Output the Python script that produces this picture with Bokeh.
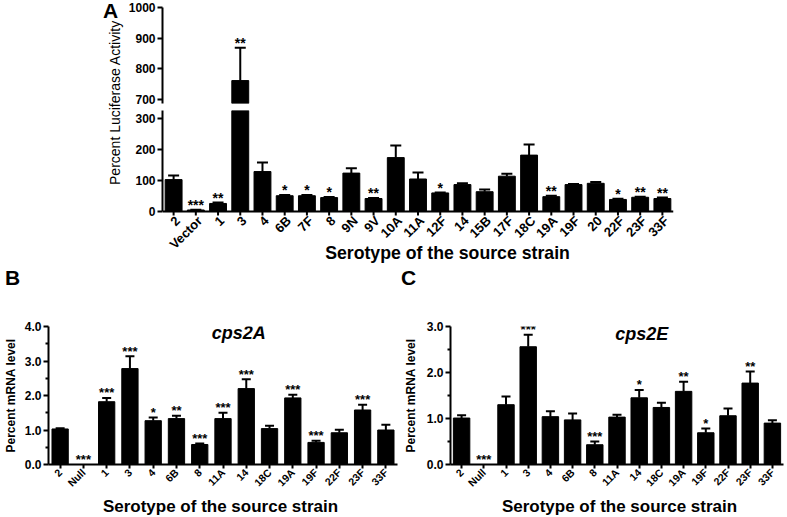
import math
from bokeh.plotting import figure
from bokeh.layouts import row, column
from bokeh.models import (FactorRange, Range1d, FixedTicker, Whisker, TeeHead,
                          Label, ColumnDataSource, PrintfTickFormatter, Span)
from bokeh.core.properties import value
from bokeh.embed import file_html
from bokeh.resources import INLINE

FONT = "Liberation Sans"

# ---------------- data ----------------
a_cats = ["2", "Vector", "1", "3", "4", "6B", "7F", "8", "9N", "9V", "10A", "11A",
          "12F", "14", "15B", "17F", "18C", "19A", "19F", "20", "22F", "23F", "33F"]
a_vals = [103, 5, 26, 762, 129, 51, 51, 45, 124, 42, 174, 105,
          60, 87, 64, 114, 182, 48, 87, 91, 39, 46, 42]
a_err = [116, 6, 29, 869, 158, 53, 53, 47, 140, 44, 213, 126,
         61, 91, 71, 122, 216, 51, 89, 95, 41, 48, 45]
a_stars = ["", "***", "**", "**", "", "*", "*", "*", "", "**", "", "",
           "*", "", "", "", "", "**", "", "", "*", "**", "**"]
a_low_ticks = [0, 100, 200, 300]
a_up_ticks = [700, 800, 900, 1000]

bc_cats = ["2", "Null", "1", "3", "4", "6B", "8", "11A", "14", "18C", "19A",
           "19F", "22F", "23F", "33F"]
b_vals = [1.03, 0, 1.82, 2.78, 1.27, 1.33, 0.58, 1.33, 2.20, 1.04, 1.93,
          0.64, 0.92, 1.58, 1.00]
b_err = [1.05, 0, 1.93, 3.14, 1.36, 1.41, 0.61, 1.50, 2.47, 1.12, 2.02,
         0.69, 1.01, 1.73, 1.15]
b_stars = ["", "***", "***", "***", "*", "**", "***", "***", "***", "", "***",
           "***", "", "***", ""]
b_ticks = [0, 1, 2, 3, 4]
b_minor = [0.5, 1.5, 2.5, 3.5]

c_vals = [1.01, 0, 1.30, 2.56, 1.04, 0.97, 0.43, 1.03, 1.45, 1.24, 1.59,
          0.69, 1.06, 1.77, 0.90]
c_err = [1.07, 0, 1.48, 2.82, 1.16, 1.11, 0.50, 1.08, 1.62, 1.34, 1.80,
         0.78, 1.22, 2.02, 0.96]
c_stars = ["", "***", "", "***", "", "", "***", "", "*", "", "**",
           "*", "", "**", ""]
c_ticks = [0, 1, 2, 3]
c_minor = [0.5, 1.5, 2.5]

x_title = "Serotype of the source strain"
a_ylabel = "Percent Luciferase Activity"
bc_ylabel = "Percent mRNA level"


# ---------------- helpers ----------------
def base_fig(width, height, x_range, y_range, left, right, top, bottom, **kw):
    p = figure(width=width, height=height, x_range=x_range, y_range=y_range,
               output_backend="svg", toolbar_location=None,
               min_border_left=left, min_border_right=right,
               min_border_top=top, min_border_bottom=bottom, **kw)
    p.outline_line_color = None
    p.grid.visible = False
    p.background_fill_color = "white"
    p.border_fill_color = "white"
    return p


def strip(width, height):
    return base_fig(width, height, Range1d(0, width), Range1d(0, height),
                    0, 0, 0, 0, x_axis_location=None, y_axis_location=None)


def style_axis(ax, size, tick_out=5):
    ax.axis_line_width = 2
    ax.axis_line_color = "black"
    ax.major_tick_line_width = 2
    ax.major_tick_line_color = "black"
    ax.major_tick_in = 0
    ax.major_tick_out = tick_out
    ax.minor_tick_line_width = 2
    ax.minor_tick_line_color = "black"
    ax.minor_tick_in = 0
    ax.minor_tick_out = 3
    ax.major_label_text_font = FONT
    ax.major_label_text_font_style = "bold"
    ax.major_label_text_font_size = size
    ax.major_label_text_color = "black"
    ax.major_label_standoff = 2


def add_label(p, x, y, text, size, style="bold", angle=0.0):
    p.add_layout(Label(x=x, y=y, text=text, text_font=FONT,
                       text_font_size=size, text_font_style=style,
                       text_color="black", text_align="center",
                       text_baseline="middle", angle=angle))


def draw_bars(p, cats, vals, errs, stars, width, head, star_size, lo, hi):
    bx = [c for c, v in zip(cats, vals) if v >= lo]
    bv = [v for v in vals if v >= lo]
    p.vbar(x=bx, top=bv, width=width, fill_color="black", line_color="black")
    wx, wl, wu = [], [], []
    sx, sy, st = [], [], []
    for c, v, e, s in zip(cats, vals, errs, stars):
        if e > v and lo <= v and e <= hi:
            wx.append(c); wl.append(v); wu.append(e)
        if s:
            yy = max(v, e)
            if lo <= yy <= hi:
                sx.append(c); sy.append(yy); st.append(s)
    if wx:
        src = ColumnDataSource(dict(x=wx, lower=wl, upper=wu))
        p.add_layout(Whisker(base="x", lower="lower", upper="upper", source=src,
                             dimension="height", line_width=2, line_color="black",
                             upper_head=TeeHead(size=head, line_width=2,
                                                line_color="black"),
                             lower_head=None))
    if sx:
        p.text(x=sx, y=sy, text=st, text_font_size=star_size,
               text_font_style="bold", text_align="center",
               text_baseline="alphabetic", text_color="black",
               y_offset=-5, text_font=value(FONT))


# ---------------- panel A ----------------
A_W = 662
A_LEFT = 37
A_FW = 511
A_RIGHT = A_W - A_LEFT - A_FW

a_x = FactorRange(factors=a_cats)

# upper segment of the broken axis (frame 96 px tall)
up = base_fig(A_W, 106, a_x, Range1d(687, 1001), A_LEFT, A_RIGHT, 7, 3,
              x_axis_location=None)
draw_bars(up, a_cats, a_vals, a_err, a_stars, 0.76, 11, "14px", 687, 1001)
style_axis(up.yaxis[0], "12px")
up.yaxis[0].ticker = FixedTicker(ticks=a_up_ticks)

# lower segment (frame 156 px tall: 0..326 above the axis, room below for labels)
LOW_H = 156
LOW_Y0, LOW_Y1 = -177.4, 326
per_px = (LOW_Y1 - LOW_Y0) / LOW_H
low = base_fig(A_W, 160, a_x, Range1d(LOW_Y0, LOW_Y1), A_LEFT, A_RIGHT, 4, 0,
               x_axis_location=None)
draw_bars(low, a_cats, a_vals, a_err, a_stars, 0.76, 11, "14px", 0, LOW_Y1)
style_axis(low.yaxis[0], "12px")
low.yaxis[0].ticker = FixedTicker(ticks=a_low_ticks)
low.yaxis[0].bounds = (0, LOW_Y1)
# category axis drawn at value 0
low.add_layout(Span(location=0, dimension="width", line_color="black",
                    line_width=2))
n_a = len(a_cats)
low.segment(x0=a_cats, y0=[0] * n_a, x1=a_cats, y1=[-4 * per_px] * n_a,
            line_color="black", line_width=2)
low.text(x=a_cats, y=[0] * n_a, text=a_cats, angle=math.pi / 4,
         text_align="right", text_baseline="middle", x_offset=4, y_offset=7,
         text_font=value(FONT), text_font_size="13px", text_font_style="bold",
         text_color="black")
# x title (frame starts at x=162 px; value 0 at y=211 px)
title_x_px = 447 - 162
title_y_px = 252 - 211
add_label(low, title_x_px * n_a / A_FW, -title_y_px * per_px, x_title, "17.7px")

labA = strip(125, 266)
add_label(labA, 110, 266 - 10, "A", "21px")
add_label(labA, 114.5, 266 - 102, a_ylabel, "14px", style="normal",
          angle=math.pi / 2)

top_part = row(labA, column(up, low))

# ---------------- panel B / C ----------------
SBC = 42
strip_bc = strip(787, SBC)          # y 266..308
add_label(strip_bc, 12, SBC - (277 - 266), "B", "21px")
add_label(strip_bc, 408, SBC - (277 - 266), "C", "21px")


def mrna_panel(width, left, fw, top, fh, bottom, ymax, ticks, minor, vals,
               errs, stars, bar_w, title, title_x, title_dy, y_standoff):
    p = base_fig(width, top + fh + bottom, FactorRange(factors=bc_cats),
                 Range1d(0, ymax), left, width - left - fw, top, bottom)
    draw_bars(p, bc_cats, vals, errs, stars, bar_w, 9, "13px", -1, 100)
    ya = p.yaxis[0]
    style_axis(ya, "12px")
    ya.ticker = FixedTicker(ticks=ticks, minor_ticks=minor)
    ya.formatter = PrintfTickFormatter(format="%.1f")
    ya.axis_label = bc_ylabel
    ya.axis_label_text_font = FONT
    ya.axis_label_text_font_style = "bold"
    ya.axis_label_text_font_size = "12px"
    ya.axis_label_text_color = "black"
    ya.axis_label_standoff = y_standoff
    xa = p.xaxis[0]
    style_axis(xa, "10.5px", tick_out=4)
    xa.major_label_orientation = math.pi / 4
    n = len(bc_cats)
    add_label(p, (title_x - left) * n / fw, ymax * (fh - title_dy) / fh,
              title, "18px", style="bold italic")
    return p


# B: frame x 43..397 ; C: frame x 447..783
b = mrna_panel(400, 43, 354, 18, 141, 29, 4.0, b_ticks, b_minor, b_vals,
               b_err, b_stars, 0.70, "cps2A", 236, 7, 4)
c = mrna_panel(387, 47, 336, 17, 140, 31, 3.0, c_ticks, c_minor, c_vals,
               c_err, c_stars, 0.74, "cps2E", 640 - 400, 7.5, 6)

TH = 21
tb = strip(400, TH)   # y 496..517
add_label(tb, 220, 517 - 505.5, x_title, "17px")
tc = strip(387, TH)
add_label(tc, 619 - 400, 517 - 505.5, x_title, "17px")

layout = column(top_part, strip_bc, row(b, c), row(tb, tc))

open("out.html", "w").write(file_html(layout, INLINE))
